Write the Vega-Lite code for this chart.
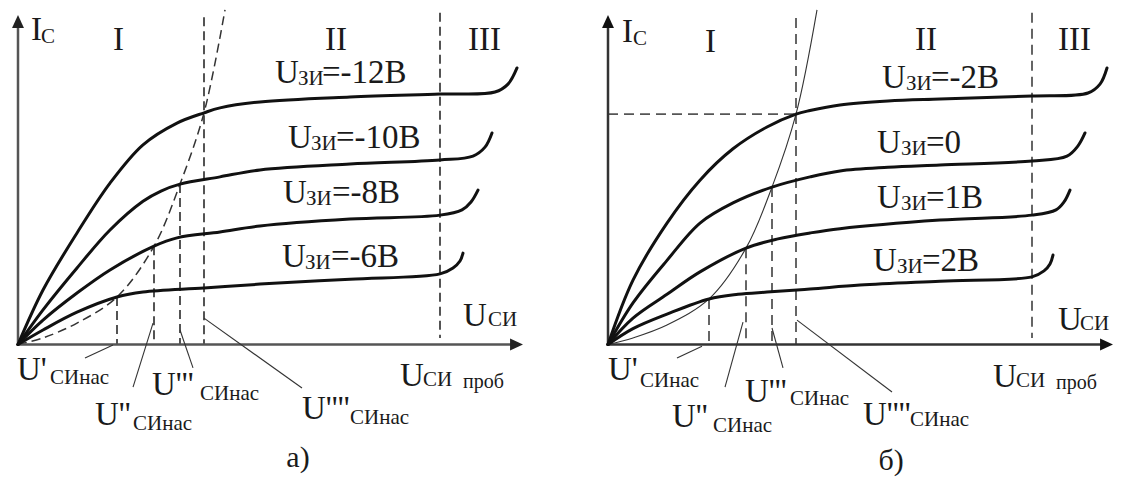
{
  "$schema": "https://vega.github.io/schema/vega-lite/v6.json",
  "padding": 0,
  "spacing": 0,
  "background": "white",
  "config": {"view": {"stroke": null}, "font": "Liberation Serif"},
  "resolve": {"scale": {"x": "independent", "y": "independent"}},
  "datasets": {
    "axes": [
      {"u": 0, "i": 0, "u2": 100, "i2": 0},
      {"u": 0, "i": 0, "u2": 0, "i2": 98}
    ],
    "arrows": [
      {"dir": "up", "u": 0, "i": 97.7},
      {"dir": "right", "u": 99.6, "i": 0}
    ],
    "curves_a": [
      {"curve": "-12", "u": 0, "i": 0}, {"curve": "-12", "u": 5, "i": 16.5}, {"curve": "-12", "u": 11.8, "i": 33.8}, {"curve": "-12", "u": 18.4, "i": 48.9}, {"curve": "-12", "u": 25, "i": 60.5}, {"curve": "-12", "u": 31.8, "i": 67.1}, {"curve": "-12", "u": 37.2, "i": 70.2}, {"curve": "-12", "u": 40.4, "i": 71.7}, {"curve": "-12", "u": 48.4, "i": 73.5}, {"curve": "-12", "u": 66.4, "i": 75}, {"curve": "-12", "u": 84.4, "i": 75.9}, {"curve": "-12", "u": 95.4, "i": 76.5}, {"curve": "-12", "u": 98, "i": 78.9}, {"curve": "-12", "u": 99.8, "i": 83.8},
      {"curve": "-10", "u": 0, "i": 0}, {"curve": "-10", "u": 5, "i": 10.5}, {"curve": "-10", "u": 11.8, "i": 23.2}, {"curve": "-10", "u": 18.4, "i": 34.7}, {"curve": "-10", "u": 25, "i": 43.4}, {"curve": "-10", "u": 28.6, "i": 46.5}, {"curve": "-10", "u": 32.4, "i": 48.6}, {"curve": "-10", "u": 40.4, "i": 50.8}, {"curve": "-10", "u": 48.4, "i": 52.9}, {"curve": "-10", "u": 66.4, "i": 54.7}, {"curve": "-10", "u": 84.4, "i": 55.9}, {"curve": "-10", "u": 91, "i": 57.1}, {"curve": "-10", "u": 93.4, "i": 59.8}, {"curve": "-10", "u": 94.8, "i": 64.1},
      {"curve": "-8", "u": 0, "i": 0}, {"curve": "-8", "u": 5, "i": 7.4}, {"curve": "-8", "u": 11.8, "i": 15.6}, {"curve": "-8", "u": 18.4, "i": 22.6}, {"curve": "-8", "u": 27.2, "i": 29.8}, {"curve": "-8", "u": 31.8, "i": 32.3}, {"curve": "-8", "u": 40.4, "i": 34.1}, {"curve": "-8", "u": 48.4, "i": 35.9}, {"curve": "-8", "u": 66.4, "i": 38}, {"curve": "-8", "u": 84.4, "i": 39.2}, {"curve": "-8", "u": 88.8, "i": 40.8}, {"curve": "-8", "u": 90.6, "i": 43.2}, {"curve": "-8", "u": 92, "i": 46.8},
      {"curve": "-6", "u": 0, "i": 0}, {"curve": "-6", "u": 5, "i": 4.4}, {"curve": "-6", "u": 11.8, "i": 9.8}, {"curve": "-6", "u": 19.8, "i": 14.4}, {"curve": "-6", "u": 25, "i": 15.9}, {"curve": "-6", "u": 37.2, "i": 17.1}, {"curve": "-6", "u": 48.4, "i": 18.3}, {"curve": "-6", "u": 66.4, "i": 19.8}, {"curve": "-6", "u": 84.4, "i": 21.4}, {"curve": "-6", "u": 87, "i": 23.2}, {"curve": "-6", "u": 88.4, "i": 25.3}, {"curve": "-6", "u": 89, "i": 27.7}
    ],
    "locus_a": [
      {"u": 0, "i": 0}, {"u": 5, "i": 2}, {"u": 11.8, "i": 6.5}, {"u": 19.8, "i": 14.4}, {"u": 27.2, "i": 29.8}, {"u": 32.4, "i": 48.6}, {"u": 37.2, "i": 70.2}, {"u": 41.4, "i": 101.4}
    ],
    "guides_a": [
      {"u": 19.8, "i": 14.4, "u2": 19.8, "i2": 0},
      {"u": 27.2, "i": 29.8, "u2": 27.2, "i2": 0},
      {"u": 32.4, "i": 48.6, "u2": 32.4, "i2": 0},
      {"u": 37.2, "i": 99.2, "u2": 37.2, "i2": 0},
      {"u": 84.4, "i": 100.5, "u2": 84.4, "i2": 2}
    ],
    "leaders_a": [
      {"u": 19, "i": -0.15, "u2": 13.4, "i2": -4.1},
      {"u": 27, "i": 6.5, "u2": 23, "i2": -12.9},
      {"u": 32.4, "i": 4.4, "u2": 35, "i2": -7.1},
      {"u": 37.2, "i": 8, "u2": 56.8, "i2": -13.2}
    ],
    "text_a": [
      {"text": "I", "role": "main", "u": 2.6, "i": 92.3},
      {"text": "С", "role": "sub", "u": 4.6, "i": 91.4},
      {"text": "I", "role": "main", "u": 19, "i": 89.2},
      {"text": "II", "role": "main", "u": 61.4, "i": 89.2},
      {"text": "III", "role": "main", "u": 90, "i": 89.2},
      {"text": "U", "role": "main", "u": 51.4, "i": 79.2},
      {"text": "ЗИ", "role": "sub", "u": 56, "i": 78.6},
      {"text": "=-12В", "role": "main", "u": 60.8, "i": 79.2},
      {"text": "U", "role": "main", "u": 54, "i": 59.5},
      {"text": "ЗИ", "role": "sub", "u": 58.6, "i": 58.9},
      {"text": "=-10В", "role": "main", "u": 63.6, "i": 59.5},
      {"text": "U", "role": "main", "u": 53, "i": 42.9},
      {"text": "ЗИ", "role": "sub", "u": 57.6, "i": 42.3},
      {"text": "=-8В", "role": "main", "u": 62.8, "i": 42.9},
      {"text": "U", "role": "main", "u": 52.8, "i": 23.5},
      {"text": "ЗИ", "role": "sub", "u": 57.4, "i": 22.9},
      {"text": "=-6В", "role": "main", "u": 62.6, "i": 23.5},
      {"text": "U", "role": "main", "u": 89, "i": 5.6},
      {"text": "СИ", "role": "sub", "u": 94, "i": 5.6},
      {"text": "U", "role": "main", "u": 76.4, "i": -12.6},
      {"text": "СИ", "role": "sub", "u": 81, "i": -12.6},
      {"text": "проб", "role": "small", "u": 89, "i": -13.2},
      {"text": "U'", "role": "main", "u": -0.2, "i": -10.8},
      {"text": "СИнас", "role": "sub", "u": 6.4, "i": -12},
      {"text": "U''", "role": "main", "u": 15.4, "i": -24.4},
      {"text": "СИнас", "role": "sub", "u": 23, "i": -25.9},
      {"text": "U'''", "role": "main", "u": 26.8, "i": -15.3},
      {"text": "СИнас", "role": "sub", "u": 36.4, "i": -16.8},
      {"text": "U''''", "role": "main", "u": 56.8, "i": -22.6},
      {"text": "СИнас", "role": "sub", "u": 66.4, "i": -24.1},
      {"text": "а)", "role": "caption", "u": 56, "i": -37.1}
    ],
    "curves_b": [
      {"curve": "-2", "u": 0, "i": 0}, {"curve": "-2", "u": 5, "i": 19.5}, {"curve": "-2", "u": 11.8, "i": 36.8}, {"curve": "-2", "u": 18.4, "i": 49.8}, {"curve": "-2", "u": 25, "i": 59.3}, {"curve": "-2", "u": 31.8, "i": 65.9}, {"curve": "-2", "u": 37.6, "i": 69.8}, {"curve": "-2", "u": 40.4, "i": 70.9}, {"curve": "-2", "u": 46.4, "i": 72.6}, {"curve": "-2", "u": 56, "i": 73.8}, {"curve": "-2", "u": 66.4, "i": 74.4}, {"curve": "-2", "u": 84.8, "i": 75.3}, {"curve": "-2", "u": 96, "i": 76.2}, {"curve": "-2", "u": 98.4, "i": 78.9}, {"curve": "-2", "u": 99.8, "i": 83.8},
      {"curve": "0", "u": 0, "i": 0}, {"curve": "0", "u": 5, "i": 12.6}, {"curve": "0", "u": 11.8, "i": 25.5}, {"curve": "0", "u": 18.4, "i": 36.8}, {"curve": "0", "u": 25, "i": 42.9}, {"curve": "0", "u": 32.8, "i": 47.7}, {"curve": "0", "u": 40.4, "i": 50.8}, {"curve": "0", "u": 46.4, "i": 52.6}, {"curve": "0", "u": 56, "i": 53.7}, {"curve": "0", "u": 66.4, "i": 54.4}, {"curve": "0", "u": 84.8, "i": 55.6}, {"curve": "0", "u": 91.8, "i": 57.1}, {"curve": "0", "u": 94, "i": 60.2}, {"curve": "0", "u": 95.4, "i": 64.1},
      {"curve": "1", "u": 0, "i": 0}, {"curve": "1", "u": 5, "i": 8}, {"curve": "1", "u": 11.8, "i": 15.2}, {"curve": "1", "u": 18.4, "i": 22}, {"curve": "1", "u": 27.6, "i": 29.2}, {"curve": "1", "u": 34, "i": 32}, {"curve": "1", "u": 40.4, "i": 33.8}, {"curve": "1", "u": 46.4, "i": 35.1}, {"curve": "1", "u": 66.4, "i": 37.7}, {"curve": "1", "u": 84.8, "i": 39.2}, {"curve": "1", "u": 89.6, "i": 40.8}, {"curve": "1", "u": 91.2, "i": 43.2}, {"curve": "1", "u": 92.4, "i": 46.8},
      {"curve": "2", "u": 0, "i": 0}, {"curve": "2", "u": 5, "i": 4.8}, {"curve": "2", "u": 11.8, "i": 9.2}, {"curve": "2", "u": 20.2, "i": 13.8}, {"curve": "2", "u": 26, "i": 15.2}, {"curve": "2", "u": 31.8, "i": 15.9}, {"curve": "2", "u": 40.4, "i": 16.8}, {"curve": "2", "u": 50.4, "i": 18}, {"curve": "2", "u": 66.4, "i": 19.2}, {"curve": "2", "u": 84.8, "i": 20.5}, {"curve": "2", "u": 87.2, "i": 22.3}, {"curve": "2", "u": 88.4, "i": 24.4}, {"curve": "2", "u": 89, "i": 27.1}
    ],
    "locus_b": [
      {"u": 0, "i": 0}, {"u": 5, "i": 2}, {"u": 11.8, "i": 5.9}, {"u": 20.2, "i": 13.8}, {"u": 27.6, "i": 29.2}, {"u": 32.8, "i": 47.7}, {"u": 37.6, "i": 69.8}, {"u": 41.8, "i": 101.4}
    ],
    "guides_b": [
      {"u": 20.2, "i": 13.8, "u2": 20.2, "i2": 0},
      {"u": 27.6, "i": 29.2, "u2": 27.6, "i2": 0},
      {"u": 32.8, "i": 47.7, "u2": 32.8, "i2": 0},
      {"u": 37.6, "i": 98.9, "u2": 37.6, "i2": 0},
      {"u": 84.8, "i": 100.5, "u2": 84.8, "i2": 2},
      {"u": 0, "i": 69.8, "u2": 37.6, "i2": 69.8}
    ],
    "leaders_b": [
      {"u": 18.8, "i": -0.5, "u2": 13.8, "i2": -4.1},
      {"u": 27, "i": 6.8, "u2": 23.4, "i2": -12.9},
      {"u": 32.8, "i": 5, "u2": 35, "i2": -7.1},
      {"u": 37.8, "i": 7.4, "u2": 56.8, "i2": -14.4}
    ],
    "text_b": [
      {"text": "I", "role": "main", "u": 2.8, "i": 91.7},
      {"text": "С", "role": "sub", "u": 5, "i": 90.8},
      {"text": "I", "role": "main", "u": 19.4, "i": 88.6},
      {"text": "II", "role": "main", "u": 61.4, "i": 89.2},
      {"text": "III", "role": "main", "u": 90, "i": 89.2},
      {"text": "U", "role": "main", "u": 54.8, "i": 77.7},
      {"text": "ЗИ", "role": "sub", "u": 59.6, "i": 77.1},
      {"text": "=-2В", "role": "main", "u": 64.6, "i": 77.7},
      {"text": "U", "role": "main", "u": 53.8, "i": 58},
      {"text": "ЗИ", "role": "sub", "u": 58.6, "i": 57.4},
      {"text": "=0", "role": "main", "u": 63.6, "i": 58},
      {"text": "U", "role": "main", "u": 53.8, "i": 41.4},
      {"text": "ЗИ", "role": "sub", "u": 58.6, "i": 40.8},
      {"text": "=1В", "role": "main", "u": 63.6, "i": 41.4},
      {"text": "U", "role": "main", "u": 53, "i": 22.3},
      {"text": "ЗИ", "role": "sub", "u": 57.8, "i": 21.7},
      {"text": "=2В", "role": "main", "u": 62.8, "i": 22.3},
      {"text": "U", "role": "main", "u": 90, "i": 4.4},
      {"text": "СИ", "role": "sub", "u": 94.4, "i": 4.4},
      {"text": "U", "role": "main", "u": 77, "i": -12.9},
      {"text": "СИ", "role": "sub", "u": 81.6, "i": -12.9},
      {"text": "проб", "role": "small", "u": 89.6, "i": -13.5},
      {"text": "U'", "role": "main", "u": 0, "i": -10.8},
      {"text": "СИнас", "role": "sub", "u": 6.4, "i": -12.9},
      {"text": "U''", "role": "main", "u": 12.8, "i": -25},
      {"text": "СИнас", "role": "sub", "u": 21, "i": -26.5},
      {"text": "U'''", "role": "main", "u": 27.4, "i": -17.4},
      {"text": "СИнас", "role": "sub", "u": 36.4, "i": -18.3},
      {"text": "U''''", "role": "main", "u": 51, "i": -24.4},
      {"text": "СИнас", "role": "sub", "u": 60.4, "i": -24.8},
      {"text": "б)", "role": "caption", "u": 56.6, "i": -38}
    ]
  },
  "hconcat": [
    {
      "width": 590,
      "height": 481,
      "encoding": {
        "x": {"field": "u", "type": "quantitative", "scale": {"domain": [-3.6, 114.4], "nice": false, "zero": false}, "axis": null},
        "y": {"field": "i", "type": "quantitative", "scale": {"domain": [-41.36, 104.39], "nice": false, "zero": false}, "axis": null}
      },
      "layer": [
        {"data": {"name": "guides_a"}, "mark": {"type": "rule", "stroke": "#2a2a2a", "strokeWidth": 1.6, "strokeDash": [9, 5]}, "encoding": {"x2": {"field": "u2"}, "y2": {"field": "i2"}}},
        {"data": {"name": "locus_a"}, "mark": {"type": "line", "interpolate": "catmull-rom", "stroke": "#333", "strokeWidth": 1.5, "strokeDash": [9, 5]}, "encoding": {}},
        {"data": {"name": "axes"}, "mark": {"type": "rule", "stroke": "#555", "strokeWidth": 2.5}, "encoding": {"x2": {"field": "u2"}, "y2": {"field": "i2"}}},
        {"data": {"name": "arrows"}, "transform": [{"filter": "datum.dir === 'up'"}], "mark": {"type": "point", "shape": "M0,-1L0.85,0.85L-0.85,0.85Z", "size": 196, "filled": true, "color": "#222", "opacity": 1, "strokeWidth": 0}},
        {"data": {"name": "arrows"}, "transform": [{"filter": "datum.dir === 'right'"}], "mark": {"type": "point", "shape": "M0,-1L0.85,0.85L-0.85,0.85Z", "angle": 90, "size": 196, "filled": true, "color": "#222", "opacity": 1, "strokeWidth": 0}},
        {"data": {"name": "curves_a"}, "mark": {"type": "line", "interpolate": "catmull-rom", "stroke": "#111", "strokeWidth": 3, "strokeCap": "round"}, "encoding": {"detail": {"field": "curve"}}},
        {"data": {"name": "leaders_a"}, "mark": {"type": "rule", "stroke": "#333", "strokeWidth": 1.1}, "encoding": {"x2": {"field": "u2"}, "y2": {"field": "i2"}}},
        {"data": {"name": "text_a"}, "transform": [{"filter": "datum.role === 'main'"}], "mark": {"type": "text", "align": "left", "baseline": "alphabetic", "font": "Liberation Serif", "fontSize": 33, "color": "#1a1a1a"}, "encoding": {"text": {"field": "text"}}},
        {"data": {"name": "text_a"}, "transform": [{"filter": "datum.role === 'sub'"}], "mark": {"type": "text", "align": "left", "baseline": "alphabetic", "font": "Liberation Serif", "fontSize": 21, "color": "#1a1a1a"}, "encoding": {"text": {"field": "text"}}},
        {"data": {"name": "text_a"}, "transform": [{"filter": "datum.role === 'small'"}], "mark": {"type": "text", "align": "left", "baseline": "alphabetic", "font": "Liberation Serif", "fontSize": 20, "color": "#1a1a1a"}, "encoding": {"text": {"field": "text"}}},
        {"data": {"name": "text_a"}, "transform": [{"filter": "datum.role === 'caption'"}], "mark": {"type": "text", "align": "center", "baseline": "alphabetic", "font": "Liberation Serif", "fontSize": 30, "color": "#1a1a1a"}, "encoding": {"text": {"field": "text"}}}
      ]
    },
    {
      "width": 536,
      "height": 481,
      "encoding": {
        "x": {"field": "u", "type": "quantitative", "scale": {"domain": [-3.6, 103.6], "nice": false, "zero": false}, "axis": null},
        "y": {"field": "i", "type": "quantitative", "scale": {"domain": [-41.36, 104.39], "nice": false, "zero": false}, "axis": null}
      },
      "layer": [
        {"data": {"name": "guides_b"}, "mark": {"type": "rule", "stroke": "#555", "strokeWidth": 1.8, "strokeDash": [10, 6]}, "encoding": {"x2": {"field": "u2"}, "y2": {"field": "i2"}}},
        {"data": {"name": "locus_b"}, "mark": {"type": "line", "interpolate": "catmull-rom", "stroke": "#333", "strokeWidth": 1.1}, "encoding": {}},
        {"data": {"name": "axes"}, "mark": {"type": "rule", "stroke": "#333", "strokeWidth": 2.5}, "encoding": {"x2": {"field": "u2"}, "y2": {"field": "i2"}}},
        {"data": {"name": "arrows"}, "transform": [{"filter": "datum.dir === 'up'"}], "mark": {"type": "point", "shape": "M0,-1L0.85,0.85L-0.85,0.85Z", "size": 196, "filled": true, "color": "#111", "opacity": 1, "strokeWidth": 0}},
        {"data": {"name": "arrows"}, "transform": [{"filter": "datum.dir === 'right'"}], "mark": {"type": "point", "shape": "M0,-1L0.85,0.85L-0.85,0.85Z", "angle": 90, "size": 196, "filled": true, "color": "#111", "opacity": 1, "strokeWidth": 0}},
        {"data": {"name": "curves_b"}, "mark": {"type": "line", "interpolate": "catmull-rom", "stroke": "#111", "strokeWidth": 3, "strokeCap": "round"}, "encoding": {"detail": {"field": "curve"}}},
        {"data": {"name": "leaders_b"}, "mark": {"type": "rule", "stroke": "#333", "strokeWidth": 1.1}, "encoding": {"x2": {"field": "u2"}, "y2": {"field": "i2"}}},
        {"data": {"name": "text_b"}, "transform": [{"filter": "datum.role === 'main'"}], "mark": {"type": "text", "align": "left", "baseline": "alphabetic", "font": "Liberation Serif", "fontSize": 33, "color": "#1a1a1a"}, "encoding": {"text": {"field": "text"}}},
        {"data": {"name": "text_b"}, "transform": [{"filter": "datum.role === 'sub'"}], "mark": {"type": "text", "align": "left", "baseline": "alphabetic", "font": "Liberation Serif", "fontSize": 21, "color": "#1a1a1a"}, "encoding": {"text": {"field": "text"}}},
        {"data": {"name": "text_b"}, "transform": [{"filter": "datum.role === 'small'"}], "mark": {"type": "text", "align": "left", "baseline": "alphabetic", "font": "Liberation Serif", "fontSize": 20, "color": "#1a1a1a"}, "encoding": {"text": {"field": "text"}}},
        {"data": {"name": "text_b"}, "transform": [{"filter": "datum.role === 'caption'"}], "mark": {"type": "text", "align": "center", "baseline": "alphabetic", "font": "Liberation Serif", "fontSize": 30, "color": "#1a1a1a"}, "encoding": {"text": {"field": "text"}}}
      ]
    }
  ]
}
